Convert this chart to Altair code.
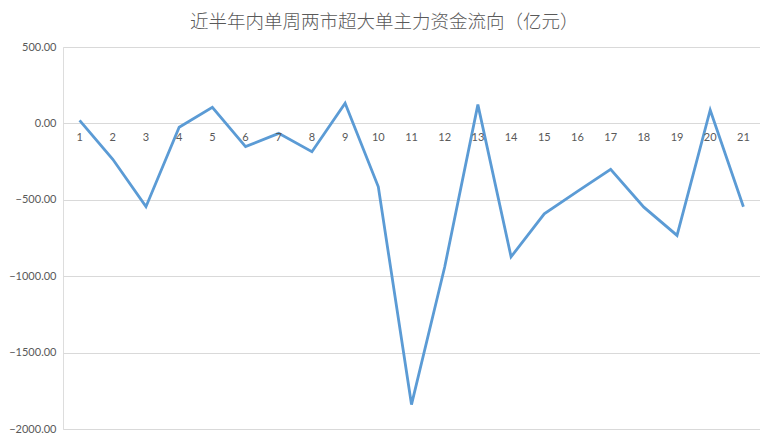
import altair as alt
import pandas as pd

weeks = [str(i) for i in range(1, 22)]
values = [20, -235, -545, -25, 105, -152, -65, -185, 132, -415, -1840,
          -940, 123, -873, -592, -445, -300, -548, -733, 88, -545]
title_text = "近半年内单周两市超大单主力资金流向（亿元）"
y_ticks = [500, 0, -500, -1000, -1500, -2000]

df = pd.DataFrame({"week": weeks, "value": values})

x_enc = alt.X("week:N", sort=weeks, axis=None,
              scale=alt.Scale(type="point", padding=0.5))

line = alt.Chart(df).mark_line(color="#5B9BD5", strokeWidth=2.8).encode(
    x=x_enc,
    y=alt.Y("value:Q", title=None,
            scale=alt.Scale(domain=[-2000, 500], nice=False, zero=False),
            axis=alt.Axis(values=y_ticks, format=".2f", domain=False, ticks=False,
                          grid=True, gridColor="#D9D9D9", gridWidth=1,
                          labelColor="#595959", labelFontSize=11,
                          labelFont="Lato", labelPadding=7)),
)

labels = alt.Chart(df).mark_text(color="#595959", fontSize=11, font="Lato", dy=15).encode(
    x=x_enc,
    y=alt.datum(0),
    text="week:N",
)

chart = alt.layer(line, labels).properties(
    width=697, height=382, padding={"top": 4, "left": 0, "right": 0, "bottom": 0},
    title=alt.TitleParams(title_text, fontSize=18.5, font="Noto Sans CJK SC",
                          fontWeight=300, color="#595959", anchor="middle",
                          frame="bounds", offset=10, baseline="top"),
).configure_view(stroke=None).configure(background="white")

chart.save("out.html", embed_options={"renderer": "svg", "actions": False})
